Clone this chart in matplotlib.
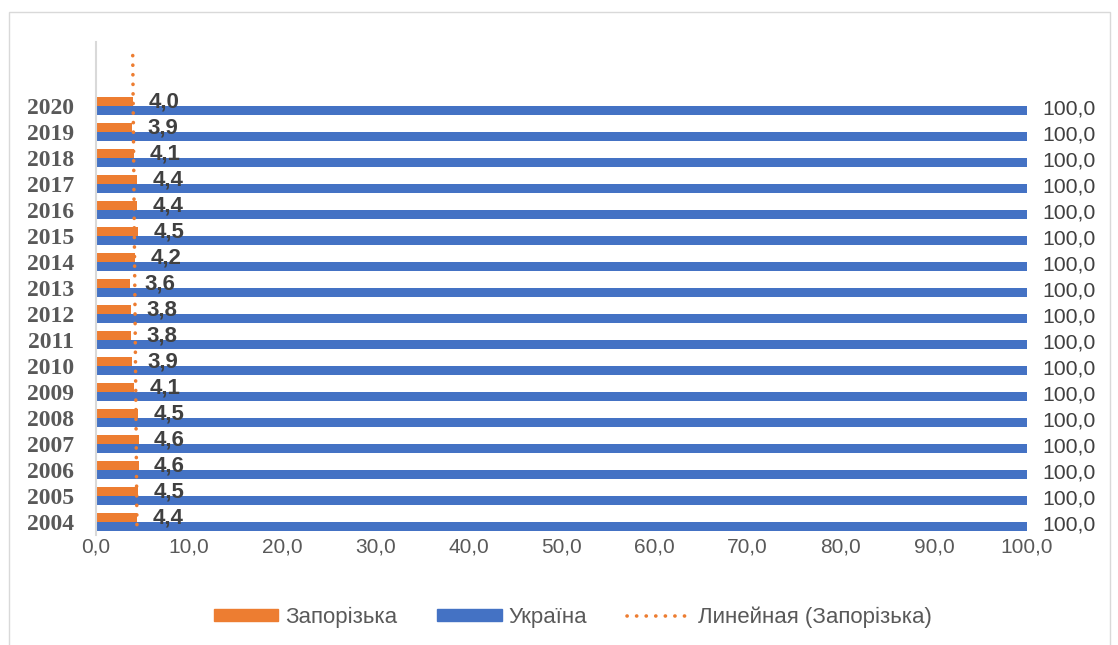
import matplotlib
matplotlib.use('Agg')
import matplotlib.pyplot as plt
from matplotlib.patches import Rectangle
from matplotlib.lines import Line2D
import numpy as np

# Дані
roky = ['2004', '2005', '2006', '2007', '2008', '2009', '2010', '2011', '2012',
        '2013', '2014', '2015', '2016', '2017', '2018', '2019', '2020']
zaporizka = [4.4, 4.5, 4.6, 4.6, 4.5, 4.1, 3.9, 3.8, 3.8, 3.6, 4.2, 4.5, 4.4, 4.4, 4.1, 3.9, 4.0]
ukraina = [100.0] * 17
x_ticks = [0, 10, 20, 30, 40, 50, 60, 70, 80, 90, 100]

orange = '#ED7D31'
blue = '#4472C4'
grey = '#595959'
dots = (0, (0.05, 2.6))

W, H = 1118, 645
fig = plt.figure(figsize=(W / 100, H / 100), dpi=100)

# рамка діаграми
fig.patches.append(Rectangle((9 / W, -0.05), 1101 / W, 1 - 12 / H + 0.05,
                             transform=fig.transFigure, fill=False,
                             edgecolor='#d9d9d9', linewidth=1))

ax = fig.add_axes([96 / W, 1 - 535 / H, (1027 - 96) / W, (535 - 42) / H])

y = np.arange(len(roky))
h = 0.36
ax.barh(y + 0.18, zaporizka, height=h, color=orange, label='Запорізька')
ax.barh(y - 0.18, ukraina, height=h, color=blue, label='Україна')

# лінійний тренд
k, b = np.polyfit(y, zaporizka, 1)
yt = np.array([-0.1, 18.1])
ax.plot(k * yt + b, yt, linestyle=dots, dash_capstyle='round',
        color=orange, linewidth=2.6, label='Линейная (Запорізька)')

for i in range(len(roky)):
    ax.annotate(f'{zaporizka[i]:.1f}'.replace('.', ','), (zaporizka[i], y[i] + 0.16),
                xytext=(11, 0), textcoords='offset points', va='center', ha='left',
                fontsize=16, fontweight='bold', color='#404040', family='Liberation Sans')
    ax.annotate(f'{ukraina[i]:.1f}'.replace('.', ','), (ukraina[i], y[i] - 0.12),
                xytext=(11, 0), textcoords='offset points', va='center', ha='left',
                fontsize=15.3, color='#404040', family='Liberation Sans')

ax.set_xlim(0, 100)
ax.set_ylim(-0.5, 18.46)
ax.set_yticks(y)
ax.set_yticklabels(roky, fontsize=17, fontweight='bold', color=grey, family='Liberation Serif')
ax.set_xticks(x_ticks)
ax.set_xticklabels([f'{v:.1f}'.replace('.', ',') for v in x_ticks], fontsize=15,
                   color=grey, family='Liberation Sans')
ax.tick_params(axis='y', length=0, pad=16)
ax.tick_params(axis='x', length=0, pad=2)
for s in ['top', 'right', 'bottom']:
    ax.spines[s].set_visible(False)
ax.spines['left'].set_color('#d9d9d9')
ax.spines['left'].set_linewidth(1.5)

handles = [Rectangle((0, 0), 1, 1, color=orange),
           Rectangle((0, 0), 1, 1, color=blue),
           Line2D([], [], linestyle=dots, dash_capstyle='round', color=orange, linewidth=2.6)]
leg = fig.legend(handles, ['Запорізька', 'Україна', 'Линейная (Запорізька)'],
                 loc='center', bbox_to_anchor=(573 / W, 1 - 617 / H), ncol=3, frameon=False,
                 prop={'family': 'Liberation Sans', 'size': 16}, handlelength=2.9,
                 handleheight=0.5, columnspacing=1.8, handletextpad=0.3)
for t in leg.get_texts():
    t.set_color(grey)

fig.savefig('out.png', dpi=100)
